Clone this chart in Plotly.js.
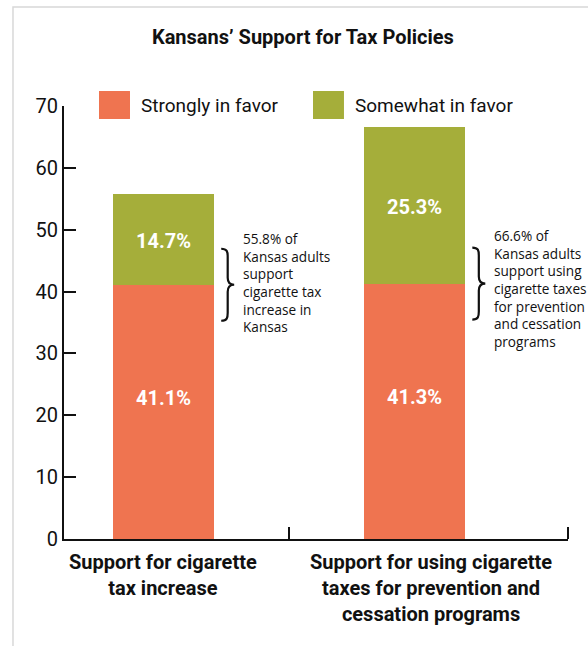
<!DOCTYPE html>
<html>
<head>
<meta charset="utf-8">
<script src="https://cdn.plot.ly/plotly-3.0.1.min.js"></script>
<style>
  html, body { margin: 0; padding: 0; background: #fff; }
  #chart { width: 588px; height: 646px; }
</style>
</head>
<body>
<div id="chart"></div>
<script>
// ---- data ----
const categories = [
  "Support for cigarette<br>tax increase",
  "Support for using cigarette<br>taxes for prevention and<br>cessation programs"
];
const seriesNames = ["Strongly in favor", "Somewhat in favor"];
const stronglyInFavor = [41.1, 41.3];
const somewhatInFavor = [14.7, 25.3];
const bracketNotes = [
  "55.8% of<br>Kansas adults<br>support<br>cigarette tax<br>increase in<br>Kansas",
  "66.6% of<br>Kansas adults<br>support using<br>cigarette taxes<br>for prevention<br>and cessation<br>programs"
];
const yTicks = [0, 10, 20, 30, 40, 50, 60, 70];

// ---- styles ----
const ORANGE = "#EF7450";
const GREEN = "#A5AE3A";
const COND = "'Liberation Sans Narrow', 'Arial Narrow', 'Roboto', sans-serif";
const HUMAN = "'Open Sans', 'Noto Sans', sans-serif";
const labelShift = [0, 16];
const noteShift = [2, -5];

const xs = categories.map((_, i) => i);

const traces = [
  { type: "bar", name: seriesNames[0], x: xs, y: stronglyInFavor, width: 0.4,
    marker: { color: ORANGE }, hoverinfo: "skip", showlegend: false },
  { type: "bar", name: seriesNames[1], x: xs, y: somewhatInFavor, width: 0.4,
    marker: { color: GREEN }, hoverinfo: "skip", showlegend: false }
];

const annotations = [];
const shapes = [];

xs.forEach(i => {
  // bar value labels
  annotations.push({ x: i, y: stronglyInFavor[i] / 2, xref: "x", yref: "y",
    text: "<b>" + stronglyInFavor[i].toFixed(1) + "%</b>", showarrow: false, yshift: 14,
    font: { family: COND, size: 20, color: "#fff" } });
  annotations.push({ x: i, y: stronglyInFavor[i] + somewhatInFavor[i] / 2, xref: "x", yref: "y",
    text: "<b>" + somewhatInFavor[i].toFixed(1) + "%</b>", showarrow: false, yshift: -2,
    font: { family: COND, size: 20, color: "#fff" } });
  // bracket notes
  annotations.push({ x: i + 0.31, y: stronglyInFavor[i], xref: "x", yref: "y",
    xanchor: "left", yanchor: "middle", align: "left", showarrow: false, yshift: noteShift[i],
    text: bracketNotes[i], font: { family: HUMAN, size: 13.6, color: "#111" } });
  // curly brace
  shapes.push({ type: "path", xref: "x", yref: "y", xsizemode: "pixel", ysizemode: "pixel",
    xanchor: i + 0.23, yanchor: stronglyInFavor[i],
    path: "M 0,36 C 6,36 6.5,33 6.5,28 L 6.5,7 C 6.5,2 8.5,0 13,0 C 8.5,0 6.5,-2 6.5,-7 L 6.5,-28 C 6.5,-33 6,-36 0,-36",
    line: { color: "#111", width: 2.2 } });
  // category labels
  annotations.push({ x: i, y: 0, xref: "x", yref: "paper", yanchor: "top", yshift: -9,
    xshift: labelShift[i], showarrow: false, align: "center",
    text: "<b>" + categories[i] + "</b>", font: { family: COND, size: 20, color: "#111" } });
});

// x axis boundary ticks
shapes.push({ type: "line", xref: "x", yref: "y", ysizemode: "pixel", yanchor: 0,
  x0: (xs[0] + xs[1]) / 2, x1: (xs[0] + xs[1]) / 2, y0: 0, y1: 12, line: { color: "#111", width: 2 } });
shapes.push({ type: "line", xref: "paper", yref: "y", ysizemode: "pixel", yanchor: 0,
  x0: 1, x1: 1, y0: 0, y1: 12, line: { color: "#111", width: 2 } });

// page frame
shapes.push({ type: "rect", xref: "paper", yref: "paper", layer: "below",
  x0: -0.1012, x1: 1.2, y0: -0.4, y1: 1.2286, line: { color: "#d8d8d8", width: 1.5 } });

// custom legend
const legendColors = [ORANGE, GREEN];
const legendX = [0.0694, 0.494];
seriesNames.forEach((n, k) => {
  shapes.push({ type: "rect", xref: "paper", yref: "paper",
    x0: legendX[k], x1: legendX[k] + 0.0615, y0: 0.970, y1: 1.0346,
    fillcolor: legendColors[k], line: { width: 0 } });
  annotations.push({ x: legendX[k] + 0.0795, y: 1.0023, xref: "paper", yref: "paper",
    xanchor: "left", yanchor: "middle", showarrow: false, text: n,
    font: { family: COND, size: 19, color: "#111" } });
});

const layout = {
  width: 588, height: 646,
  margin: { l: 64, r: 20, t: 106, b: 107 },
  paper_bgcolor: "#fff", plot_bgcolor: "#fff",
  barmode: "stack",
  showlegend: false,
  title: { text: "<b>Kansans’ Support for Tax Policies</b>", x: 0.474, xref: "paper",
    y: 1 - 37 / 646, yanchor: "middle", xanchor: "center",
    font: { family: COND, size: 20, color: "#111" } },
  xaxis: { type: "linear", range: [-0.396, 1.611], showticklabels: false,
    ticks: "", showline: true, linecolor: "#111", linewidth: 2, showgrid: false, zeroline: false,
    fixedrange: true },
  yaxis: { range: [0, 70], tickvals: yTicks, ticks: "inside", ticklen: 12, tickwidth: 2, tickcolor: "#111",
    showline: true, linecolor: "#111", linewidth: 2, showgrid: false, zeroline: false,
    tickfont: { family: COND, size: 20, color: "#111" }, fixedrange: true },
  annotations: annotations,
  shapes: shapes
};

Plotly.newPlot("chart", traces, layout, { displayModeBar: false, staticPlot: true });
</script>
</body>
</html>
